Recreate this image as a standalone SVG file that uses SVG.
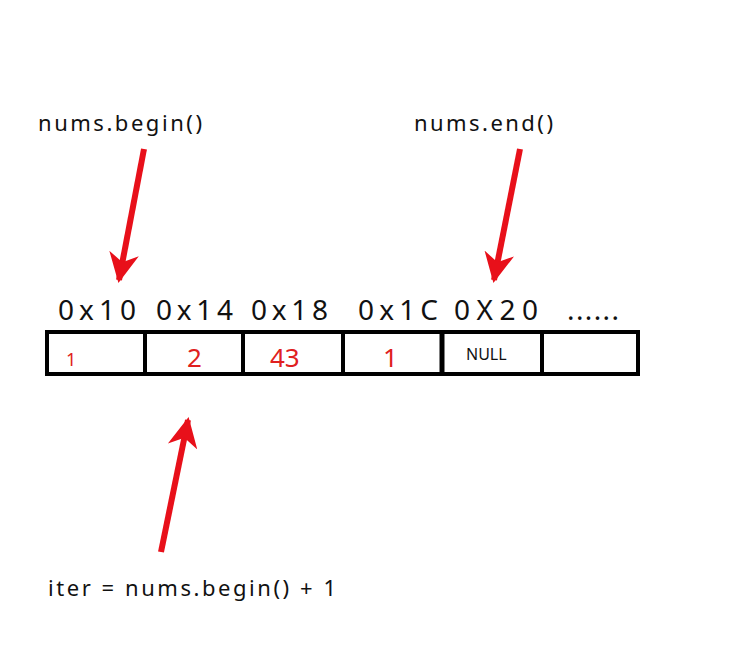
<svg xmlns="http://www.w3.org/2000/svg" width="730" height="655" viewBox="0 0 730 655">
<style>
.t{font-family:"Noto Sans","DejaVu Sans",sans-serif;fill:#111}
.a{font-size:28px}
.r{fill:#e02020;font-family:"Noto Sans","DejaVu Sans",sans-serif}
.arr{stroke:#e8101a;stroke-width:6;fill:none}
</style>
<defs><marker id="h" viewBox="0 0 10 10" refX="9" refY="5" markerWidth="6" markerHeight="5" orient="auto" markerUnits="strokeWidth"><path d="M0,0 L10,5 L0,10 L3,5 Z" fill="#e8101a"/></marker></defs>
<rect width="730" height="655" fill="#fff"/>
<g id="labels">
<text class="t" x="38" y="131" font-size="22" textLength="164" lengthAdjust="spacing">nums.begin()</text>
<text class="t" x="414" y="131" font-size="22" textLength="139" lengthAdjust="spacing">nums.end()</text>
<text class="t" x="48" y="596" font-size="22" textLength="288" lengthAdjust="spacing">iter = nums.begin() + 1</text>
</g>
<g id="addresses">
<text class="t a" x="58" y="320" textLength="78" lengthAdjust="spacing">0x10</text>
<text class="t a" x="156" y="320" textLength="77" lengthAdjust="spacing">0x14</text>
<text class="t a" x="251" y="320" textLength="77" lengthAdjust="spacing">0x18</text>
<text class="t a" x="358" y="320" textLength="80" lengthAdjust="spacing">0x1C</text>
<text class="t a" x="454" y="320" textLength="84" lengthAdjust="spacing">0X20</text>
<text class="t a" x="567" y="320" textLength="52" lengthAdjust="spacing">......</text>
</g>
<g id="array" stroke="#000" stroke-width="4" fill="none">
<rect x="47" y="332" width="591" height="42"/>
<line x1="145" y1="332" x2="145" y2="374"/>
<line x1="243" y1="332" x2="243" y2="374"/>
<line x1="343" y1="332" x2="343" y2="374"/>
<line x1="442" y1="332" x2="442" y2="374" stroke-width="5"/>
<line x1="542" y1="332" x2="542" y2="374"/>
</g>
<g id="values">
<text class="r" x="66" y="366" font-size="18">1</text>
<text class="r" x="187" y="367" font-size="26">2</text>
<text class="r" x="270" y="367" font-size="26">43</text>
<text class="r" x="383" y="367" font-size="26">1</text>
<text class="t" x="466" y="360" font-size="16">NULL</text>
</g>
<g id="connectors">
<line class="arr" x1="144" y1="149" x2="119" y2="280" marker-end="url(#h)"/>
<line class="arr" x1="520" y1="149" x2="494" y2="280" marker-end="url(#h)"/>
<line class="arr" x1="161" y1="552" x2="188" y2="420" marker-end="url(#h)"/>
</g>
</svg>
